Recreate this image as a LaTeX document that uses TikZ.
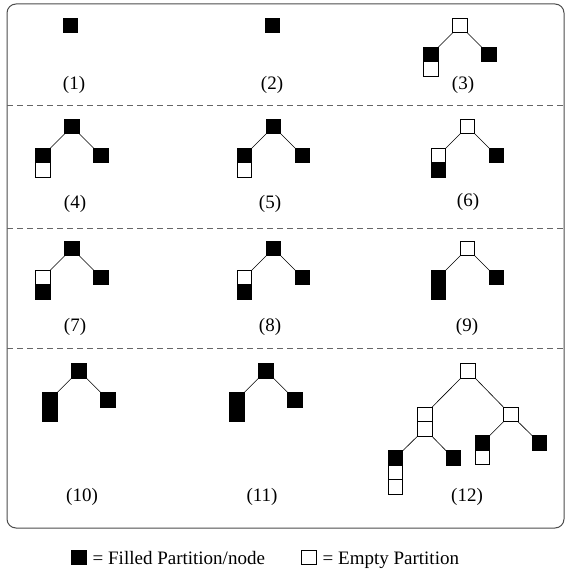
\documentclass[tikz,border=0pt]{standalone}
\usepackage{fontspec}
\setmainfont{Liberation Serif}
\begin{document}
\begin{tikzpicture}[x=1pt,y=-1pt,
  part/.style={draw=black, line width=0.6pt, minimum size=14.5pt, inner sep=0pt, outer sep=0pt},
  fp/.style={part, fill=black},
  ep/.style={part, fill=white},
  link/.style={draw=black, line width=0.6pt},
  capt/.style={font=\fontsize{19}{22}\selectfont, inner sep=0pt},
  sep/.style={draw=black!60, line width=0.8pt, dash pattern=on 6pt off 4pt},
  frame/.style={draw=black!70, line width=1pt, rounded corners=9pt}]
\useasboundingbox (0,0) rectangle (571,572);

% outer frame and row separators
\path[frame] (7,4) rectangle (564,528);
\coordinate (s1l) at (7,105);  \coordinate (s1r) at (564,105);
\coordinate (s2l) at (7,228);  \coordinate (s2r) at (564,228);
\coordinate (s3l) at (7,348);  \coordinate (s3r) at (564,348);
\draw[sep] (s1l) -- (s1r);
\draw[sep] (s2l) -- (s2r);
\draw[sep] (s3l) -- (s3r);

% (1)
\node[fp] (p1) at (70.5,25.5) {};
\node[capt] (c1) at (74,85) {(1)};

% (2)
\node[fp] (p2) at (272.5,25.5) {};
\node[capt] (c2) at (272,85) {(2)};

% (3)
\node[ep] (r3) at (460,25.5) {};
\node[fp] (l3) at (431,54.5) {};
\node[ep, anchor=north] (l3b) at (l3.south) {};
\node[fp] (g3) at (489,54.5) {};
\draw[link] (r3.south west) -- (l3.north east);
\draw[link] (r3.south east) -- (g3.north west);
\node[capt] (c3) at (463,85) {(3)};

% (4)
\node[fp] (r4) at (72,126.5) {};
\node[fp] (l4) at (43,155.5) {};
\node[ep, anchor=north] (l4b) at (l4.south) {};
\node[fp] (g4) at (101,155.5) {};
\draw[link] (r4.south west) -- (l4.north east);
\draw[link] (r4.south east) -- (g4.north west);
\node[capt] (c4) at (75,204) {(4)};

% (5)
\node[fp] (r5) at (273.5,126.5) {};
\node[fp] (l5) at (244.5,155.5) {};
\node[ep, anchor=north] (l5b) at (l5.south) {};
\node[fp] (g5) at (302.5,155.5) {};
\draw[link] (r5.south west) -- (l5.north east);
\draw[link] (r5.south east) -- (g5.north west);
\node[capt] (c5) at (270,204) {(5)};

% (6)
\node[ep] (r6) at (467.5,126.5) {};
\node[ep] (l6) at (438.5,155.5) {};
\node[fp, anchor=north] (l6b) at (l6.south) {};
\node[fp] (g6) at (496.5,155.5) {};
\draw[link] (r6.south west) -- (l6.north east);
\draw[link] (r6.south east) -- (g6.north west);
\node[capt] (c6) at (468,202) {(6)};

% (7)
\node[fp] (r7) at (72,248.5) {};
\node[ep] (l7) at (43,277.5) {};
\node[fp, anchor=north] (l7b) at (l7.south) {};
\node[fp] (g7) at (101,277.5) {};
\draw[link] (r7.south west) -- (l7.north east);
\draw[link] (r7.south east) -- (g7.north west);
\node[capt] (c7) at (75,327) {(7)};

% (8)
\node[fp] (r8) at (273.5,248.5) {};
\node[ep] (l8) at (244.5,277.5) {};
\node[fp, anchor=north] (l8b) at (l8.south) {};
\node[fp] (g8) at (302.5,277.5) {};
\draw[link] (r8.south west) -- (l8.north east);
\draw[link] (r8.south east) -- (g8.north west);
\node[capt] (c8) at (270,327) {(8)};

% (9)
\node[ep] (r9) at (467.5,248.5) {};
\node[fp] (l9) at (438.5,277.5) {};
\node[fp, anchor=north] (l9b) at (l9.south) {};
\node[fp] (g9) at (496.5,277.5) {};
\draw[link] (r9.south west) -- (l9.north east);
\draw[link] (r9.south east) -- (g9.north west);
\node[capt] (c9) at (467,327) {(9)};

% (10)
\node[fp] (r10) at (79,370.8) {};
\node[fp] (l10) at (50,399.8) {};
\node[fp, anchor=north] (l10b) at (l10.south) {};
\node[fp] (g10) at (108,399.8) {};
\draw[link] (r10.south west) -- (l10.north east);
\draw[link] (r10.south east) -- (g10.north west);
\node[capt] (c10) at (82,497) {(10)};

% (11)
\node[fp] (r11) at (266,370.8) {};
\node[fp] (l11) at (237,399.8) {};
\node[fp, anchor=north] (l11b) at (l11.south) {};
\node[fp] (g11) at (295,399.8) {};
\draw[link] (r11.south west) -- (l11.north east);
\draw[link] (r11.south east) -- (g11.north west);
\node[capt] (c11) at (262,497) {(11)};

% (12)
\node[ep] (r12) at (468,371) {};
\node[ep] (a12) at (424.7,414.5) {};
\node[ep, anchor=north] (a12b) at (a12.south) {};
\node[ep] (b12) at (510.8,414.5) {};
\node[fp] (aa12) at (395.5,458) {};
\node[ep, anchor=north] (aa12b) at (aa12.south) {};
\node[ep, anchor=north] (aa12c) at (aa12b.south) {};
\node[fp] (ab12) at (453.3,458) {};
\node[fp] (ba12) at (482.2,443) {};
\node[ep, anchor=north] (ba12b) at (ba12.south) {};
\node[fp] (bb12) at (539.5,443) {};
\draw[link] (r12.south west) -- (a12.north east);
\draw[link] (r12.south east) -- (b12.north west);
\draw[link] (a12b.south west) -- (aa12.north east);
\draw[link] (a12b.south east) -- (ab12.north west);
\draw[link] (b12.south west) -- (ba12.north east);
\draw[link] (b12.south east) -- (bb12.north west);
\node[capt] (c12) at (467,497) {(12)};

% legend
\node[fp] (kf) at (79,557.5) {};
\node[capt, anchor=base west] (kft) at (92.5,564.5) {= Filled Partition/node};
\node[ep] (ke) at (309,557.5) {};
\node[capt, anchor=base west] (ket) at (322.5,564.5) {= Empty Partition};
\end{tikzpicture}
\end{document}
